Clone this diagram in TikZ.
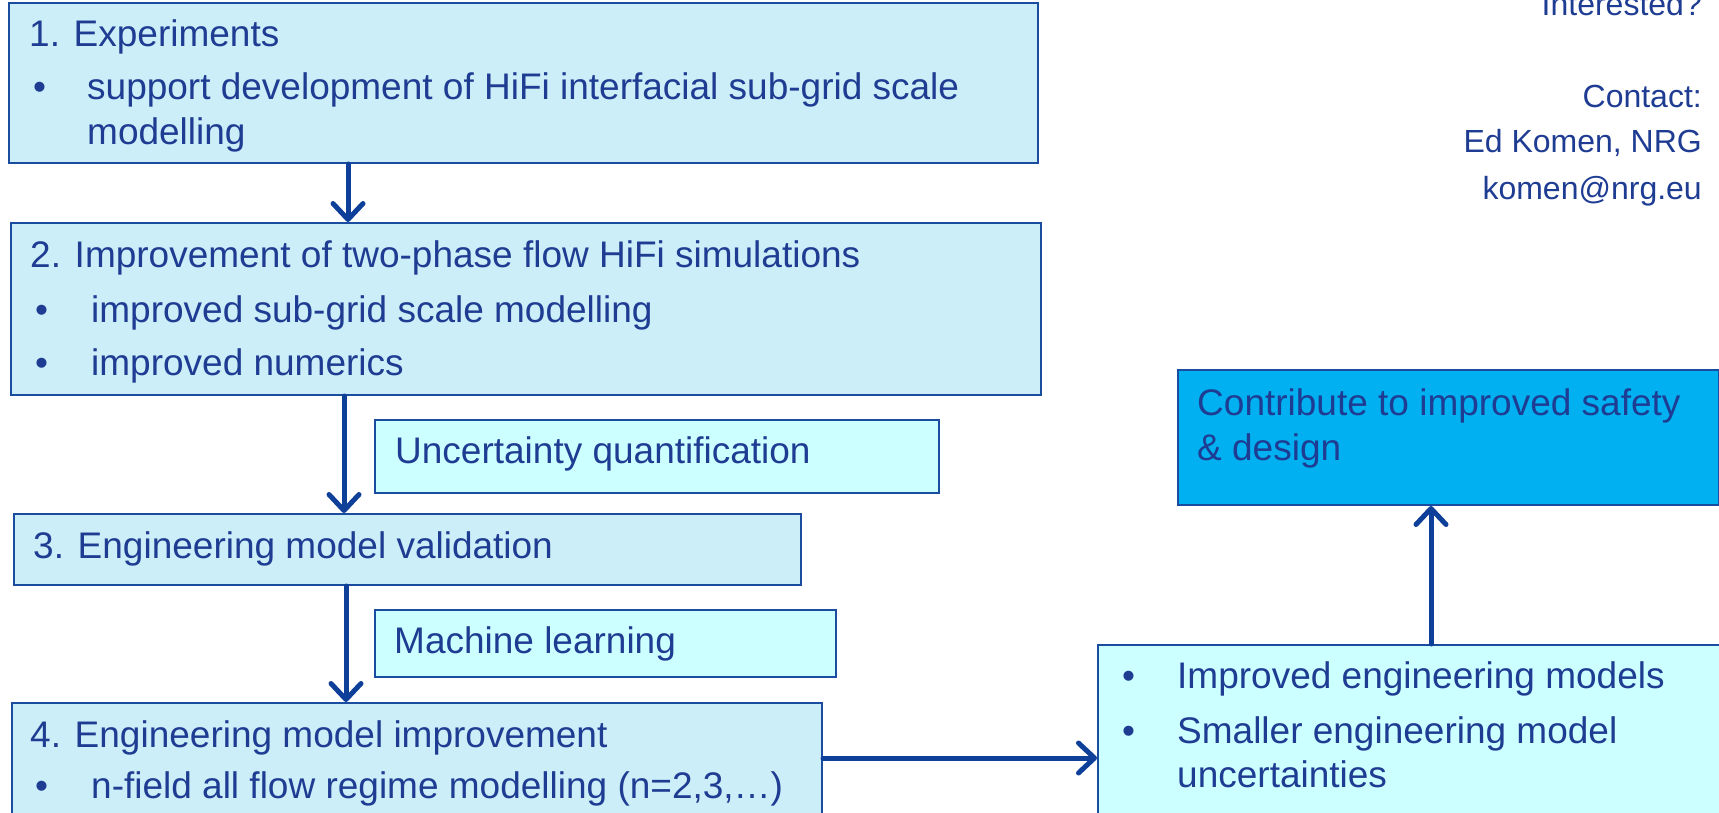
\documentclass[tikz,border=0pt]{standalone}
\usepackage{fontspec}
\setmainfont{Liberation Sans}
\usetikzlibrary{arrows.meta}
\definecolor{boxfill}{HTML}{CCEEF8}
\definecolor{cyanfill}{HTML}{CCFFFF}
\definecolor{goalfill}{HTML}{00B0F0}
\definecolor{edge}{HTML}{1A4CA0}
\definecolor{arrowc}{HTML}{0E3F99}
\definecolor{txt}{HTML}{1F3C93}
\tikzset{
  box/.style={draw=edge, line width=2pt, fill=boxfill, rectangle, anchor=north west, inner sep=0pt},
  cbox/.style={box, fill=cyanfill},
  gbox/.style={box, fill=goalfill},
  lbl/.style={anchor=base west, inner sep=0pt, text=txt, font=\fontsize{37}{44}\selectfont},
  clbl/.style={anchor=base east, inner sep=0pt, text=txt, font=\fontsize{32}{38}\selectfont},
  arr/.style={draw=arrowc, line width=5pt, line cap=round, -{Straight Barb[length=16pt,width=30pt,line width=5pt,round]}}
}
\begin{document}
\begin{tikzpicture}[x=1pt,y=-1pt]
\useasboundingbox (0,0) rectangle (1719,813);
% boxes
\node[box, minimum width=1029pt, minimum height=160pt] (b1) at (8,2) {};
\node[box, minimum width=1030pt, minimum height=172pt] (b2) at (10,222) {};
\node[cbox, minimum width=564pt, minimum height=73pt] (uq) at (374,419) {};
\node[box, minimum width=787pt, minimum height=71pt] (b3) at (13,513) {};
\node[cbox, minimum width=461pt, minimum height=67pt] (ml) at (374,609) {};
\node[box, minimum width=810pt, minimum height=130pt] (b4) at (11,702) {};
\node[cbox, minimum width=650pt, minimum height=190pt] (res) at (1097,644) {};
\node[gbox, minimum width=541pt, minimum height=135pt] (goal) at (1177,369) {};
% texts box 1
\node[lbl] (t11) at (29,47) {1. Experiments};
\node[lbl] (t12b) at (33,100) {•};
\node[lbl] (t12) at (87,100) {support development of HiFi interfacial sub-grid scale};
\node[lbl] (t13) at (87,145) {modelling};
% box 2
\node[lbl] (t21) at (30,267) {2. Improvement of two-phase flow HiFi simulations};
\node[lbl] (t22b) at (35,322) {•};
\node[lbl] (t22) at (91,322) {improved sub-grid scale modelling};
\node[lbl] (t23b) at (35,375) {•};
\node[lbl] (t23) at (91,375) {improved numerics};
% uq
\node[lbl] (tuq) at (395,463) {Uncertainty quantification};
% box 3
\node[lbl] (t31) at (33,558) {3. Engineering model validation};
% ml
\node[lbl] (tml) at (394,653) {Machine learning};
% box 4
\node[lbl] (t41) at (30,747) {4. Engineering model improvement};
\node[lbl] (t42b) at (35,798) {•};
\node[lbl] (t42) at (91,798) {n-field all flow regime modelling (n=2,3,…)};
% goal
\node[lbl] (tg1) at (1197,415) {Contribute to improved safety};
\node[lbl] (tg2) at (1197,460) {\& design};
% results
\node[lbl] (tr1b) at (1122,688) {•};
\node[lbl] (tr1) at (1177,688) {Improved engineering models};
\node[lbl] (tr2b) at (1122,743) {•};
\node[lbl] (tr2) at (1177,743) {Smaller engineering model};
\node[lbl] (tr3) at (1177,787) {uncertainties};
% contact
\node[clbl] (c0) at (1702,16) {Interested?};
\node[clbl] (c1) at (1702,108) {Contact:};
\node[clbl] (c2) at (1702,153) {Ed Komen, NRG};
\node[clbl] (c3) at (1702,200) {komen@nrg.eu};
% arrows
\coordinate (x12) at (348,0);
\coordinate (x23) at (344,0);
\coordinate (x34) at (346,0);
\coordinate (xup) at (1431,0);
\coordinate (y4r) at (0,758);
\draw[arr] (b1.south -| x12) -- (b2.north -| x12);
\draw[arr] (b2.south -| x23) -- (b3.north -| x23);
\draw[arr] (b3.south -| x34) -- (b4.north -| x34);
\draw[arr] (b4.east |- y4r) -- (res.west |- y4r);
\draw[arr] (res.north -| xup) -- (goal.south -| xup);
\end{tikzpicture}
\end{document}
